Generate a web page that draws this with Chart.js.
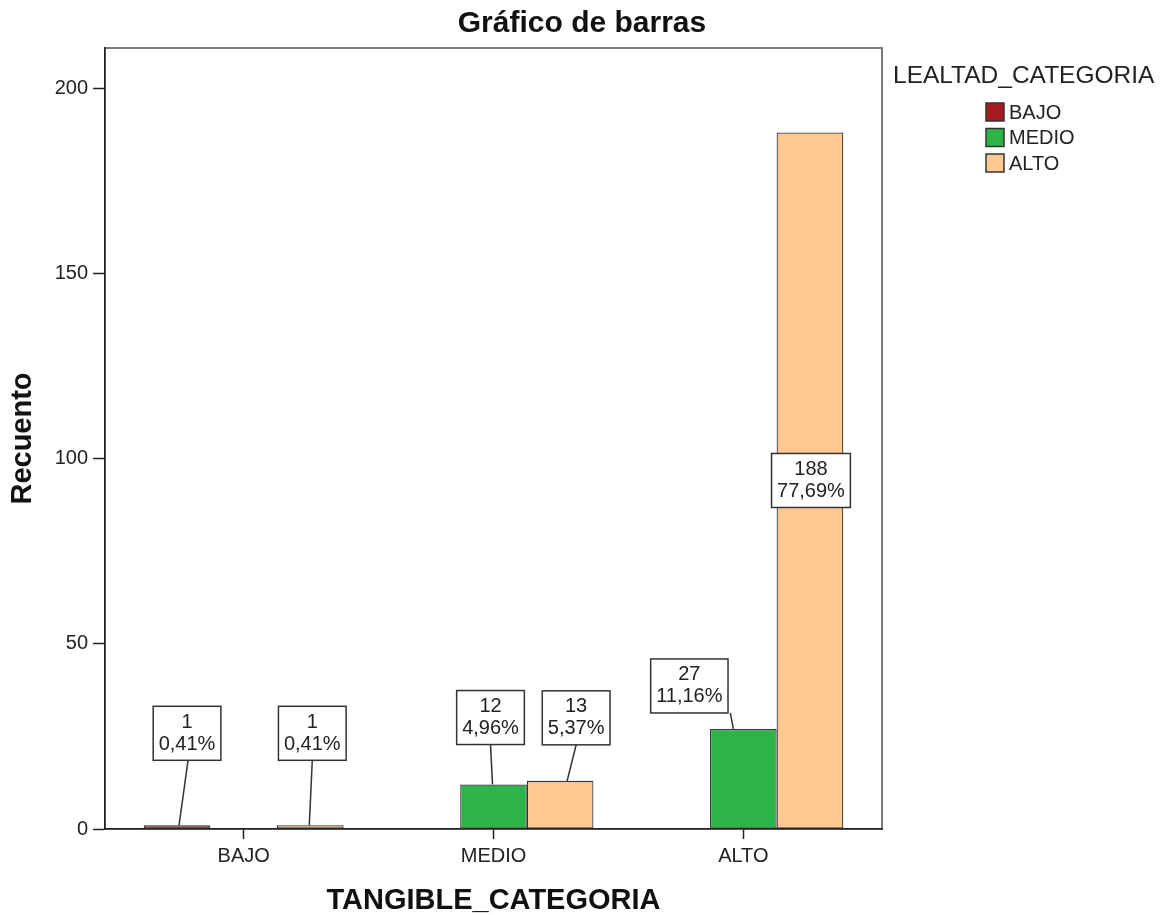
<!DOCTYPE html>
<html>
<head>
<meta charset="utf-8">
<title>Gráfico de barras</title>
<script src="https://cdn.jsdelivr.net/npm/chart.js@4.4.1/dist/chart.umd.min.js"></script>
<style>
  html, body { margin: 0; padding: 0; background: #fff; }
  canvas { display: block; }
</style>
</head>
<body>
<canvas id="bar-chart" width="1176" height="915"></canvas>
<script>
// data
const tangibleCategories = ['BAJO', 'MEDIO', 'ALTO'];
const lealtadCategories = ['BAJO', 'MEDIO', 'ALTO'];
const lealtadBajo = [1, 0, 0];
const lealtadMedio = [0, 12, 27];
const lealtadAlto = [1, 13, 188];
const yTicks = [0, 50, 100, 150, 200];

const FAMILY = '"Liberation Sans", Arial, sans-serif';
const barColors = ['#a51c1e', '#2db449', '#ffc892'];

// where each callout box sits: [box dx, box dy from bar top, line top dx, line bottom dx]
const calloutPlacement = [
    [[10, -92, 1, 2], null, null],
    [null, [-3, -67, 0, -1], [-54, -43, 41, -10]],
    [[2, -92, 0, -1], [16, -63, 0, 7], 'mid'],
];

const total = [...lealtadBajo, ...lealtadMedio, ...lealtadAlto].reduce((a, b) => a + b, 0);
const pct = v => (v / total * 100).toFixed(2).replace('.', ',') + '%';

const frame = {
    id: 'frame',
    beforeDraw(chart) {
        const {ctx, chartArea: a} = chart;
        ctx.save();
        ctx.strokeStyle = '#7a7a7a';
        ctx.lineWidth = 2;
        ctx.strokeRect(a.left, a.top, a.right - a.left, a.bottom - a.top);
        ctx.restore();
    }
};

const callouts = {
    id: 'callouts',
    afterDatasetsDraw(chart) {
        const ctx = chart.ctx;
        ctx.save();
        ctx.font = '20px ' + FAMILY;
        ctx.textAlign = 'center';
        ctx.textBaseline = 'middle';
        ctx.strokeStyle = '#333';
        ctx.lineWidth = 1.5;
        chart.data.datasets.forEach((ds, d) => {
            chart.getDatasetMeta(d).data.forEach((bar, i) => {
                const place = calloutPlacement[d][i];
                const v = ds.data[i].y;
                if (!place || !v) return;
                const lines = [String(v), pct(v)];
                const w = Math.max(...lines.map(t => ctx.measureText(t).width)) + 11;
                const h = 54;
                let cx, cy;
                if (place === 'mid') {
                    cx = bar.x + 1;
                    cy = (bar.y + bar.base) / 2;
                } else {
                    cx = bar.x + place[0];
                    cy = bar.y + place[1];
                    ctx.beginPath();
                    ctx.moveTo(cx + place[2], cy + h / 2);
                    ctx.lineTo(bar.x + place[3], bar.y);
                    ctx.stroke();
                }
                ctx.fillStyle = '#fff';
                ctx.fillRect(cx - w / 2, cy - h / 2, w, h);
                ctx.strokeRect(cx - w / 2, cy - h / 2, w, h);
                ctx.fillStyle = '#222';
                ctx.fillText(lines[0], cx, cy - 11);
                ctx.fillText(lines[1], cx, cy + 11);
            });
        });
        ctx.restore();
    }
};

const sideLegend = {
    id: 'sideLegend',
    afterDraw(chart) {
        const ctx = chart.ctx;
        const left = chart.chartArea.right;
        ctx.save();
        ctx.textAlign = 'left';
        ctx.textBaseline = 'middle';
        ctx.fillStyle = '#222';
        ctx.font = '24.5px ' + FAMILY;
        ctx.fillText('LEALTAD_CATEGORIA', left + 11, 76);
        ctx.font = '20px ' + FAMILY;
        lealtadCategories.forEach((name, i) => {
            const y = 112 + i * 25.5;
            ctx.fillStyle = barColors[i];
            ctx.fillRect(left + 104, y - 9, 18, 18);
            ctx.strokeStyle = '#333';
            ctx.lineWidth = 1.5;
            ctx.strokeRect(left + 104, y - 9, 18, 18);
            ctx.fillStyle = '#222';
            ctx.fillText(name, left + 127, y + 1);
        });
        ctx.restore();
    }
};

const series = [lealtadBajo, lealtadMedio, lealtadAlto];

Chart.defaults.font.family = FAMILY;
Chart.defaults.color = '#222';

new Chart(document.getElementById('bar-chart').getContext('2d'), {
    type: 'bar',
    data: {
        datasets: series.map((values, d) => ({
            label: lealtadCategories[d],
            data: tangibleCategories.map((c, i) => ({x: i + 1, y: values[i]})),
            backgroundColor: barColors[d],
            borderColor: '#333',
            borderWidth: 1.2,
            borderSkipped: false,
            categoryPercentage: 0.8,
            barPercentage: 1.0,
        })),
    },
    options: {
        responsive: false,
        animation: false,
        layout: {padding: {right: 12}},
        plugins: {
            legend: {display: false},
            tooltip: {enabled: false},
            title: {
                display: true,
                text: 'Gráfico de barras',
                color: '#111',
                font: {size: 30, weight: 'bold'},
                padding: {top: 6, bottom: 6},
            },
        },
        scales: {
            x: {
                type: 'linear',
                min: 0.445,
                max: 3.555,
                offset: false,
                afterBuildTicks: s => { s.ticks = tangibleCategories.map((c, i) => ({value: i + 1})); },
                afterFit: s => { s.height = 86; },
                ticks: {
                    callback: v => tangibleCategories[v - 1],
                    font: {size: 20},
                    color: '#222',
                    padding: 5,
                    autoSkip: false,
                    maxRotation: 0,
                },
                grid: {
                    display: true,
                    offset: false,
                    drawOnChartArea: false,
                    drawTicks: true,
                    tickLength: 10,
                    tickColor: '#222',
                    tickWidth: 1.5,
                },
                border: {display: true, color: '#222', width: 1.5},
                title: {
                    display: true,
                    text: 'TANGIBLE_CATEGORIA',
                    color: '#111',
                    font: {size: 29, weight: 'bold', lineHeight: 1},
                    padding: {top: 0, bottom: 0},
                },
            },
            y: {
                type: 'linear',
                min: 0,
                max: 210.8,
                afterBuildTicks: s => { s.ticks = yTicks.map(v => ({value: v})); },
                afterFit: s => { s.width = 105; },
                ticks: {
                    font: {size: 20},
                    color: '#222',
                    padding: 5,
                },
                grid: {
                    display: true,
                    drawOnChartArea: false,
                    drawTicks: true,
                    tickLength: 12,
                    tickColor: '#222',
                    tickWidth: 1.5,
                },
                border: {display: true, color: '#222', width: 1.5},
                title: {
                    display: true,
                    text: 'Recuento',
                    color: '#111',
                    font: {size: 29, weight: 'bold', lineHeight: 1},
                    padding: {top: 8, bottom: 0},
                },
            },
            // empty right axis that reserves room for the legend
            yRight: {
                type: 'linear',
                position: 'right',
                display: true,
                afterFit: s => { s.width = 282; },
                ticks: {display: false},
                grid: {display: false},
                border: {display: false},
            },
        },
    },
    plugins: [frame, callouts, sideLegend],
});
</script>
</body>
</html>
